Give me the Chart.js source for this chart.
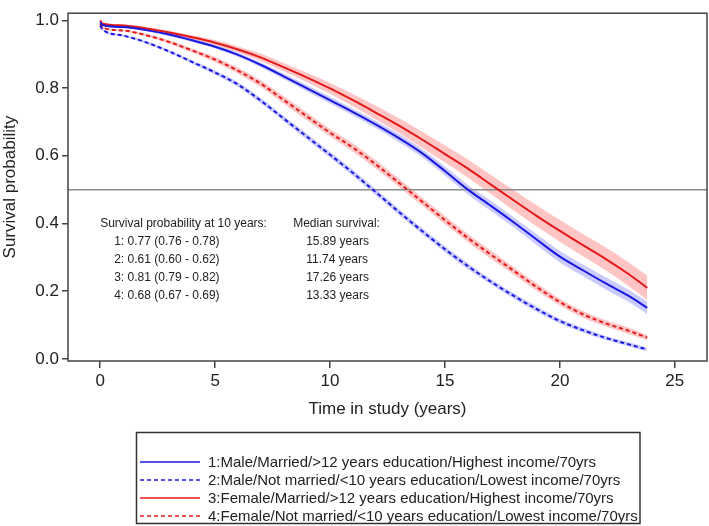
<!DOCTYPE html>
<html>
<head>
<meta charset="utf-8">
<script src="https://cdn.jsdelivr.net/npm/chart.js@4.4.1/dist/chart.umd.min.js"></script>
<style>
  html, body { margin: 0; padding: 0; background: #fff; }
  #wrap { width: 709px; height: 526px; }
</style>
</head>
<body>
<div id="wrap"><canvas id="myChart" width="709" height="526"></canvas></div>
<script>
// survival curves
const times = [0, 0.1, 1, 2, 3, 4, 5, 6, 7, 8, 9, 10, 11, 12, 13, 14, 15, 16, 17, 18, 19, 20, 21, 22, 23, 23.8];

// 1: male / married / high edu
const surv1 = [0.995, 0.986, 0.980, 0.971, 0.958, 0.941, 0.922, 0.898, 0.868, 0.834, 0.799, 0.764, 0.729, 0.692, 0.652, 0.608, 0.555, 0.500, 0.452, 0.403, 0.352, 0.302, 0.262, 0.223, 0.186, 0.151];
const ci1 = [0.002, 0.003, 0.003, 0.003, 0.004, 0.005, 0.005, 0.006, 0.007, 0.008, 0.009, 0.010, 0.010, 0.011, 0.012, 0.012, 0.013, 0.014, 0.015, 0.015, 0.016, 0.017, 0.017, 0.018, 0.018, 0.019];
// 2: male / not married / low edu
const surv2 = [0.985, 0.973, 0.955, 0.935, 0.908, 0.877, 0.846, 0.810, 0.762, 0.709, 0.656, 0.603, 0.549, 0.492, 0.434, 0.378, 0.324, 0.274, 0.228, 0.186, 0.147, 0.112, 0.085, 0.062, 0.043, 0.028];
const ci2 = [0.002, 0.003, 0.003, 0.004, 0.004, 0.005, 0.006, 0.007, 0.008, 0.008, 0.009, 0.009, 0.009, 0.009, 0.009, 0.009, 0.009, 0.009, 0.008, 0.008, 0.008, 0.007, 0.007, 0.006, 0.006, 0.005];
// 3: female / married / high edu
const surv3 = [1.000, 0.990, 0.985, 0.976, 0.964, 0.950, 0.934, 0.914, 0.890, 0.861, 0.831, 0.799, 0.764, 0.727, 0.689, 0.648, 0.605, 0.562, 0.515, 0.468, 0.422, 0.378, 0.336, 0.295, 0.250, 0.210];
const ci3 = [0.002, 0.003, 0.003, 0.004, 0.005, 0.006, 0.008, 0.009, 0.011, 0.012, 0.014, 0.016, 0.018, 0.020, 0.022, 0.024, 0.025, 0.027, 0.028, 0.030, 0.031, 0.032, 0.033, 0.034, 0.035, 0.036];
// 4: female / not married / low edu
const surv4 = [0.990, 0.979, 0.970, 0.956, 0.936, 0.911, 0.884, 0.851, 0.812, 0.764, 0.716, 0.668, 0.624, 0.574, 0.520, 0.465, 0.410, 0.357, 0.308, 0.260, 0.212, 0.168, 0.132, 0.105, 0.083, 0.063];
const ci4 = [0.002, 0.003, 0.003, 0.004, 0.005, 0.006, 0.008, 0.009, 0.010, 0.011, 0.011, 0.011, 0.012, 0.012, 0.012, 0.012, 0.012, 0.012, 0.012, 0.011, 0.011, 0.010, 0.010, 0.009, 0.009, 0.008];

const groupNames = [
  '1:Male/Married/>12 years education/Highest income/70yrs',
  '2:Male/Not married/<10 years education/Lowest income/70yrs',
  '3:Female/Married/>12 years education/Highest income/70yrs',
  '4:Female/Not married/<10 years education/Lowest income/70yrs'
];
const tenYear = ['1: 0.77 (0.76 - 0.78)', '2: 0.61 (0.60 - 0.62)', '3: 0.81 (0.79 - 0.82)', '4: 0.68 (0.67 - 0.69)'];
const medians = ['15.89 years', '11.74 years', '17.26 years', '13.33 years'];
const xTicks = [0, 5, 10, 15, 20, 25];
const yTicks = [0, 0.2, 0.4, 0.6, 0.8, 1.0];
const xRange = [-1.4, 26.4];
const refLevel = 0.5;

const BLUE = 'rgb(25,25,225)';
const RED = 'rgb(230,25,25)';
const BLUE_BAND = 'rgba(140,140,255,0.45)';
const RED_BAND = 'rgba(255,140,140,0.5)';
const FONT = '"Liberation Sans", Arial, sans-serif';

const groups = [
  { surv: surv1, ci: ci1, color: BLUE, band: BLUE_BAND, dash: [] },
  { surv: surv2, ci: ci2, color: BLUE, band: BLUE_BAND, dash: [4, 3] },
  { surv: surv3, ci: ci3, color: RED, band: RED_BAND, dash: [] },
  { surv: surv4, ci: ci4, color: RED, band: RED_BAND, dash: [4, 3] }
];

function pts(vals) {
  return times.map((t, i) => ({ x: t, y: vals[i] }));
}

const datasets = [];
groups.forEach((g) => {
  const lo = g.surv.map((v, i) => v - g.ci[i]);
  const hi = g.surv.map((v, i) => v + g.ci[i]);
  const loIdx = datasets.length;
  datasets.push({
    data: pts(lo), borderWidth: 0, pointRadius: 0, fill: false,
    cubicInterpolationMode: 'monotone', order: 3
  });
  datasets.push({
    data: pts(hi), borderWidth: 0, pointRadius: 0, backgroundColor: g.band,
    fill: { target: loIdx }, cubicInterpolationMode: 'monotone', order: 3
  });
});
datasets.push({
  data: [{ x: xRange[0], y: refLevel }, { x: xRange[1], y: refLevel }],
  borderColor: 'rgb(140,140,140)', borderWidth: 1.5, pointRadius: 0, fill: false, order: 2
});
groups.forEach((g) => {
  datasets.push({
    data: pts(g.surv), borderColor: g.color, borderWidth: 2, borderDash: g.dash,
    pointRadius: 0, fill: false, cubicInterpolationMode: 'monotone', order: 1
  });
});

// text block inside the plot + legend box under it
const extras = {
  id: 'extras',
  afterDraw(chart) {
    const ctx = chart.ctx;
    const xs = chart.scales.x, ys = chart.scales.y;
    const area = chart.chartArea;
    ctx.save();
    // frame
    ctx.strokeStyle = '#444';
    ctx.lineWidth = 1.5;
    ctx.strokeRect(area.left, area.top, area.right - area.left, area.bottom - area.top);

    // stats text
    const x0 = xs.getPixelForValue(0);
    const y0 = ys.getPixelForValue(0.4);
    ctx.fillStyle = '#222';
    ctx.font = '12px ' + FONT;
    ctx.textBaseline = 'middle';
    ctx.textAlign = 'left';
    ctx.fillText('Survival probability at 10 years:', x0, y0);
    ctx.fillText('Median survival:', x0 + 193, y0);
    for (let i = 0; i < 4; i++) {
      ctx.fillText(tenYear[i], x0 + 14, y0 + 18 * (i + 1));
      ctx.fillText(medians[i], x0 + 206, y0 + 18 * (i + 1));
    }

    // legend
    const bx = 136.5, by = 432.5, bw = 503.5, bh = 91;
    ctx.strokeStyle = '#333';
    ctx.lineWidth = 1.5;
    ctx.strokeRect(bx, by, bw, bh);
    ctx.font = '15px ' + FONT;
    groups.forEach((g, i) => {
      const yy = 462 + 18 * i;
      ctx.beginPath();
      ctx.setLineDash(g.dash);
      ctx.strokeStyle = g.color;
      ctx.lineWidth = 1.5;
      ctx.moveTo(140, yy);
      ctx.lineTo(200, yy);
      ctx.stroke();
      ctx.setLineDash([]);
      ctx.fillStyle = '#222';
      ctx.fillText(groupNames[i], 208, yy + 1);
    });
    ctx.restore();
  }
};

const ctx = document.getElementById('myChart').getContext('2d');
const myChart = new Chart(ctx, {
  type: 'line',
  data: { datasets: datasets },
  options: {
    responsive: false,
    animation: false,
    layout: { padding: { top: 1, right: 2, bottom: 102, left: 0 } },
    plugins: { legend: { display: false }, tooltip: { enabled: false } },
    scales: {
      x: {
        type: 'linear', min: xRange[0], max: xRange[1],
        afterBuildTicks: (s) => { s.ticks = xTicks.map(v => ({ value: v })); },
        afterFit: (s) => { s.height = 63; },
        grid: { display: true, drawOnChartArea: false, drawTicks: true, tickLength: 7, color: '#444', lineWidth: 1.5 },
        border: { display: false },
        ticks: { color: '#222', font: { family: FONT, size: 17 }, padding: 3, maxRotation: 0, autoSkip: false },
        title: { display: true, text: 'Time in study (years)', color: '#222', font: { family: FONT, size: 17 }, padding: { top: 0, bottom: 4 } }
      },
      y: {
        min: -0.006, max: 1.021,
        afterBuildTicks: (s) => { s.ticks = yTicks.map(v => ({ value: v })); },
        afterFit: (s) => { s.width = 68; },
        grid: { display: true, drawOnChartArea: false, drawTicks: true, tickLength: 6, color: '#444', lineWidth: 1.5 },
        border: { display: false },
        ticks: { color: '#222', font: { family: FONT, size: 17 }, padding: 3, callback: (v) => v.toFixed(1) },
        title: { display: true, text: 'Survival probability', color: '#222', font: { family: FONT, size: 17 }, padding: 0 }
      }
    }
  },
  plugins: [extras]
});
</script>
</body>
</html>
